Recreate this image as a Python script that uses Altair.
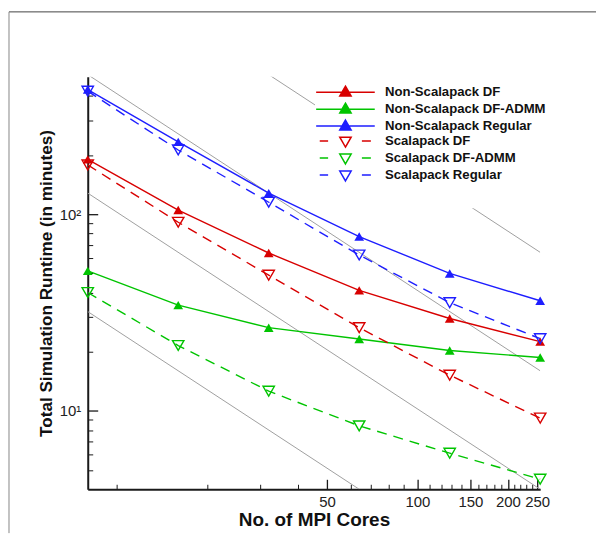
import altair as alt
import pandas as pd

# ---------------- data ----------------
cores = [8, 16, 32, 64, 128, 256]
series_names = [
    "Non-Scalapack DF", "Non-Scalapack DF-ADMM", "Non-Scalapack Regular",
    "Scalapack DF", "Scalapack DF-ADMM", "Scalapack Regular",
]
ns_df = [190, 105, 63.5, 41, 29.5, 22.5]
ns_admm = [51.5, 34.5, 26.5, 23.2, 20.3, 18.7]
ns_reg = [430, 233, 128, 77, 50, 36.3]
s_df = [178, 91, 49, 26.5, 15.2, 9.2]
s_admm = [40, 21.5, 12.6, 8.4, 6.1, 4.5]
s_reg = [422, 212, 115, 62, 35.5, 23.3]

# gray ideal-scaling guide lines (start / end points)
ref_x0 = [8, 8, 8, 32]
ref_x1 = [64, 256, 256, 256]
ref_y0 = [32, 128, 512, 512]
ref_y1 = [4, 4, 16, 64]

x_major = [50, 100, 150, 200, 250]
x_minor = [10, 20, 30, 40, 60, 70, 80, 90, 110, 120, 130, 140,
           160, 170, 180, 190, 210, 220, 230, 240]
y_major = [10, 100]
y_minor = [5, 6, 7, 8, 9, 20, 30, 40, 50, 60, 70, 80, 90, 200, 300, 400]

# ---------------- tables ----------------
all_vals = [ns_df, ns_admm, ns_reg, s_df, s_admm, s_reg]
rows = []
for name, vals in zip(series_names, all_vals):
    for c, v in zip(cores, vals):
        rows.append({"series": name, "cores": c, "time": v})
df = pd.DataFrame(rows)

ref_rows = []
for i, (a, b, c, d) in enumerate(zip(ref_x0, ref_x1, ref_y0, ref_y1)):
    ref_rows.append({"line": i, "cores": a, "time": c})
    ref_rows.append({"line": i, "cores": b, "time": d})
ref_df = pd.DataFrame(ref_rows)

RED, GREEN, BLUE = "#d80000", "#00c400", "#1e1eff"
series_colors = [RED, GREEN, BLUE, RED, GREEN, BLUE]
FONT = "Liberation Sans"
W, H = 454, 414

xs = alt.Scale(type="log", domain=[8, 256], nice=False)
ys = alt.Scale(type="log", domain=[4, 500], nice=False)
color_scale = alt.Scale(domain=series_names, range=series_colors)
fill_scale = alt.Scale(domain=series_names,
                       range=[RED, GREEN, BLUE, "white", "white", "white"])
# legend glyphs: path units are 3 px (symbolSize 36)
solid_path = "M-9.8,0H9.8M0,-2L1.9,1.3L-1.9,1.3Z"
dashed_path = "M-8.6,0H-5.8M5.5,0H8.5M0,2L1.9,-1.3L-1.9,-1.3Z"
shape_scale = alt.Scale(domain=series_names,
                        range=[solid_path] * 3 + [dashed_path] * 3)

x_axis = alt.Axis(values=x_major, format="d", ticks=False, tickSize=0, grid=False,
                  domainColor="#1a1a1a", domainWidth=2, labelFont=FONT,
                  labelFontSize=15, labelColor="#222", labelPadding=5,
                  labelOverlap=False, labelFlush=False,
                  title="No. of MPI Cores", titleFont=FONT, titleFontSize=19,
                  titleFontWeight="bold", titleColor="#111", titlePadding=1)
y_axis = alt.Axis(values=y_major, labelExpr="datum.value == 10 ? '10¹' : '10²'",
                  ticks=False, tickSize=0, grid=False,
                  domainColor="#1a1a1a", domainWidth=2, labelFont=FONT,
                  labelFontSize=15, labelColor="#222", labelPadding=7,
                  labelOverlap=False,
                  title="Total Simulation Runtime (in minutes)", titleFont=FONT,
                  titleFontSize=17.2, titleFontWeight="bold", titleColor="#111",
                  titlePadding=4)

legend = alt.Legend(title=None, orient="none", legendX=228, legendY=-15,
                    padding=24, fillColor="white", symbolSize=36,
                    symbolStrokeWidth=1.5, labelFont=FONT, labelFontSize=13.2,
                    labelFontWeight="bold", labelColor="#111", labelOffset=33,
                    rowPadding=0, labelLimit=400)


def X(field="cores"):
    return alt.X(f"{field}:Q", scale=xs, axis=x_axis)


def Y(field="time"):
    return alt.Y(f"{field}:Q", scale=ys, axis=y_axis)


layers = []

# figure frame (decoration)
frame_df = pd.DataFrame({"a": [0]})
layers.append(alt.Chart(frame_df).mark_rule(color="#444", strokeWidth=1).encode(
    x=alt.value(-79), x2=alt.value(510), y=alt.value(-65)))
layers.append(alt.Chart(frame_df).mark_rule(color="#888", strokeWidth=1).encode(
    x=alt.value(-79), y=alt.value(-65), y2=alt.value(458)))

# gray reference lines
layers.append(alt.Chart(ref_df).mark_line(color="#a0a0a0", strokeWidth=1, clip=True).encode(
    x=X(), y=Y(), detail="line:N"))

# data series
for name, col in zip(series_names, series_colors):
    sub = df[df["series"] == name]
    scal = name.startswith("Scalapack")
    if scal:
        line = alt.Chart(sub).mark_line(color=col, strokeWidth=1.4, strokeDash=[10, 7])
        pts = alt.Chart(sub).mark_point(shape="triangle-down", filled=False, color=col,
                                        size=130, strokeWidth=1.4, opacity=1)
    else:
        line = alt.Chart(sub).mark_line(color=col, strokeWidth=1.4)
        pts = alt.Chart(sub).mark_point(shape="triangle-up", filled=True, color=col,
                                        size=95, opacity=1)
    layers.append(line.encode(x=X(), y=Y()))
    layers.append(pts.encode(x=X(), y=Y()))

# legend (custom line+marker symbols)
layers.append(alt.Chart(df).transform_filter("false").mark_point(
    filled=False, opacity=1, strokeWidth=1.5).encode(
    x=X(), y=Y(),
    stroke=alt.Stroke("series:N", scale=color_scale, legend=legend),
    fill=alt.Fill("series:N", scale=fill_scale, legend=legend),
    shape=alt.Shape("series:N", scale=shape_scale, legend=legend),
))

main = alt.layer(*layers)


# inward ticks: extra tick-only axes pushed into the plot by a negative offset
def tick_axis(orient, values, size, width):
    return alt.Axis(orient=orient, values=values, offset=-size, tickSize=size,
                    ticks=True, tickColor="#1a1a1a", tickWidth=width,
                    labels=False, domain=False, grid=False, title=None)


ty_major = alt.Chart(pd.DataFrame({"time": y_major})).mark_point(opacity=0).encode(
    y=alt.Y("time:Q", scale=ys, axis=tick_axis("left", y_major, 10, 1.3)))
ty_minor = alt.Chart(pd.DataFrame({"time": y_minor})).mark_point(opacity=0).encode(
    y=alt.Y("time:Q", scale=ys, axis=tick_axis("left", y_minor, 5, 1)))
tx_major = alt.Chart(pd.DataFrame({"cores": x_major})).mark_point(opacity=0).encode(
    x=alt.X("cores:Q", scale=xs, axis=tick_axis("bottom", x_major, 10, 1.3)))
tx_minor = alt.Chart(pd.DataFrame({"cores": x_minor})).mark_point(opacity=0).encode(
    x=alt.X("cores:Q", scale=xs, axis=tick_axis("bottom", x_minor, 5, 1)))

chart = alt.layer(main, ty_major, ty_minor, tx_major, tx_minor).resolve_axis(
    x="independent", y="independent"
).properties(
    width=W, height=H,
    padding={"left": 0, "top": 2, "right": 0, "bottom": 0},
    background="white",
).configure(font=FONT, view=alt.ViewConfig(stroke=None))

chart.save("out.html", embed_options={"renderer": "svg", "actions": False})
